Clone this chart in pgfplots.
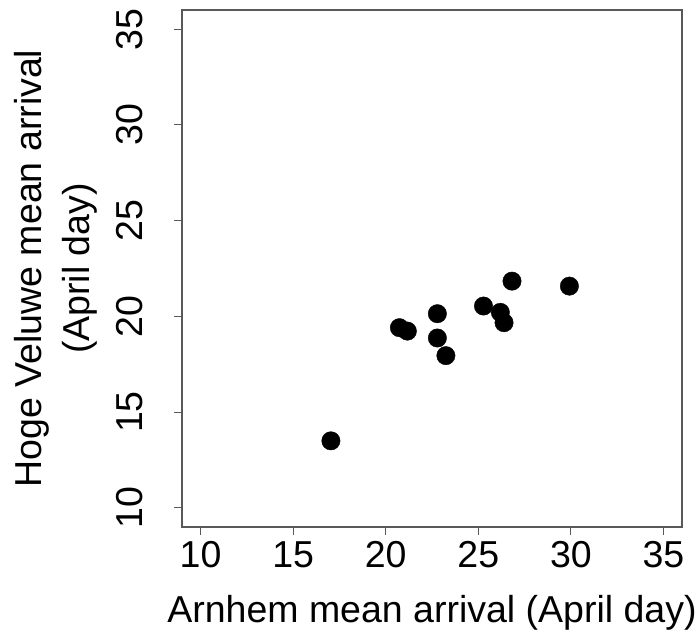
\documentclass[border=0pt]{standalone}
\usepackage{fontspec}
\setmainfont{Liberation Sans}
\usepackage{pgfplots}
\pgfplotsset{compat=1.18}
\begin{document}
\fontsize{37.5pt}{47pt}\selectfont
\begin{tikzpicture}
\begin{axis}[
  name=ax,
  scale only axis,
  width=500pt, height=517pt,
  xmin=9, xmax=36, ymin=9, ymax=36,
  xtick={10,15,...,35}, ytick={10,15,...,35},
  tick align=outside,
  major tick length=8pt,
  axis line style={draw=black!65, line width=1.2pt},
  tick style={draw=black!65, line width=1.2pt},
  xtick pos=bottom, ytick pos=left,
  /pgf/number format/assume math mode=true,
  ticklabel style={font=\fontsize{37.5pt}{45pt}\selectfont},
  xticklabel style={anchor=base},
  xticklabel shift=32pt,
  yticklabel style={rotate=90, anchor=base},
  yticklabel shift=31pt,
  xlabel={Arnhem mean arrival (April day)},
  xlabel style={at={(axis description cs:0.5,0)}, anchor=base, yshift=-95pt, inner sep=0pt},
  ylabel={Hoge Veluwe mean arrival\\(April day)},
  ylabel style={at={(axis description cs:-0.252,0.5)}, anchor=center, rotate=0, align=center, inner sep=0pt},
  label style={font=\fontsize{37.5pt}{48pt}\selectfont},
]
\addplot[only marks, mark=*, mark size=9.2pt, mark options={fill=black, draw=black}] coordinates {
(17.04,13.50)
(20.74,19.41)
(21.17,19.23)
(22.79,20.14)
(22.79,18.87)
(23.25,17.95)
(25.28,20.54)
(26.19,20.21)
(26.39,19.67)
(26.82,21.84)
(29.92,21.58)
};
\end{axis}
\pgfresetboundingbox
\path[use as bounding box] (ax.south west) ++(-182pt,-114pt) rectangle ++(700pt,641pt);
\end{tikzpicture}
\end{document}
